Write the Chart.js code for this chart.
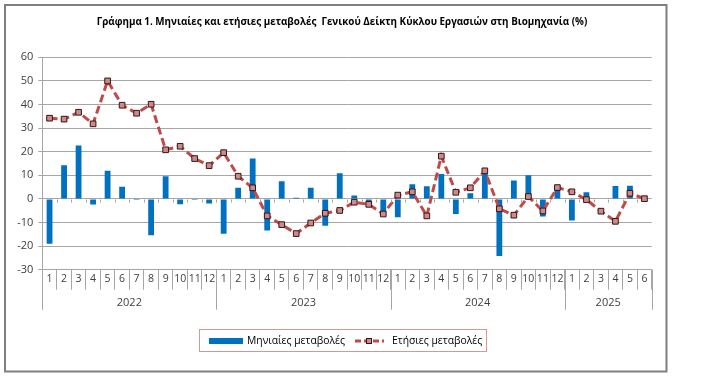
<!DOCTYPE html>
<html>
<head>
<meta charset="utf-8">
<script src="https://cdn.jsdelivr.net/npm/chart.js@4"></script>
<style>
html,body{margin:0;padding:0;background:#fff;}
#wrap{width:706px;height:383px;position:relative;}
</style>
</head>
<body>
<div id="wrap"><canvas id="c" width="706" height="383"></canvas></div>
<script>
const years = ['2022', '2023', '2024', '2025'];
const monthsPerYear = [12, 12, 12, 6];
const monthly = [-19.0, 14.3, 22.6, -2.4, 11.9, 5.1, -0.5, -15.4, 9.6, -2.3, -0.5, -2.0,
  -14.8, 4.7, 17.1, -13.4, 7.5, 0.5, 4.7, -11.4, 10.9, 1.4, -1.5, -5.8,
  -7.8, 6.2, 5.4, 10.5, -6.4, 2.4, 12.3, -24.2, 7.8, 10.0, -7.5, 4.2,
  -9.2, 2.8, 0.0, 5.5, 5.6, 0.0];
const annual = [34.2, 33.8, 36.7, 31.8, 50.0, 39.7, 36.3, 40.1, 20.8, 22.3, 17.1, 14.1,
  19.6, 9.6, 4.7, -7.2, -10.9, -14.7, -10.2, -6.1, -4.9, -1.4, -2.3, -6.4,
  1.6, 3.0, -7.2, 18.1, 2.8, 4.7, 11.9, -4.2, -6.9, 1.0, -5.1, 4.8,
  3.0, -0.3, -5.2, -9.5, 2.4, 0.1];
const seriesNames = ['Μηνιαίες μεταβολές', 'Ετήσιες μεταβολές'];
const titleText = 'Γράφημα 1. Μηνιαίες και ετήσιες μεταβολές  Γενικού Δείκτη Κύκλου Εργασιών στη Βιομηχανία (%)';

const labels = [];
monthsPerYear.forEach(n => { for (let m = 1; m <= n; m++) labels.push(String(m)); });

const FONT = "'Open Sans', 'Noto Sans', sans-serif";
const BAR = '#0070C0';
const LINE = '#BE4B48';
const MARK_FILL = '#C98C8A';
const MARK_BORDER = '#3A1212';
const GRID = '#A6A6A6';
const TEXT = '#404040';

function fitFont(ctx, text, target, weight) {
  let fs = 12;
  ctx.font = weight + fs + 'px ' + FONT;
  const w = ctx.measureText(text).width;
  fs = fs * target / w;
  ctx.font = weight + fs.toFixed(2) + 'px ' + FONT;
}

const decor = {
  id: 'decor',
  beforeDraw(chart) {
    const ctx = chart.ctx;
    ctx.save();
    ctx.fillStyle = '#fff';
    ctx.fillRect(0, 0, chart.width, chart.height);
    ctx.strokeStyle = '#7F7F7F';
    ctx.lineWidth = 2;
    ctx.strokeRect(5, 5, 661.5, 366.5);
    ctx.fillStyle = '#000';
    fitFont(ctx, titleText, 491, 'bold ');
    ctx.textAlign = 'center';
    ctx.textBaseline = 'middle';
    ctx.fillText(titleText, 342, 22);
    ctx.restore();
  },
  afterDraw(chart) {
    const ctx = chart.ctx;
    const y = chart.scales.y;
    const area = chart.chartArea;
    const n = labels.length;
    const step = (area.right - area.left) / n;
    ctx.save();
    const y0 = Math.round(y.getPixelForValue(0)) + 0.5;
    ctx.strokeStyle = GRID;
    ctx.lineWidth = 1;
    ctx.beginPath();
    for (let i = 1; i < n; i++) {
      const xx = Math.round(area.left + i * step) + 0.5;
      ctx.moveTo(xx, y0);
      ctx.lineTo(xx, y0 + 3);
    }
    ctx.stroke();
    let idx = 0;
    ctx.beginPath();
    const bounds = [0];
    monthsPerYear.forEach(m => { idx += m; bounds.push(idx); });
    bounds.forEach(b => {
      const xx = Math.round(area.left + b * step) + 0.5;
      ctx.moveTo(xx, area.bottom);
      ctx.lineTo(xx, area.bottom + 40);
    });
    ctx.stroke();
    ctx.fillStyle = TEXT;
    ctx.font = '11px ' + FONT;
    ctx.textAlign = 'center';
    ctx.textBaseline = 'middle';
    for (let i = 0; i < years.length; i++) {
      const cx = area.left + (bounds[i] + bounds[i + 1]) / 2 * step;
      ctx.fillText(years[i], cx, area.bottom + 33);
    }
    // legend
    ctx.strokeStyle = '#D99694';
    ctx.lineWidth = 1;
    ctx.strokeRect(199.5, 329.5, 287, 22);
    ctx.fillStyle = BAR;
    ctx.fillRect(209, 338, 34, 6);
    ctx.fillStyle = '#000';
    fitFont(ctx, seriesNames[0], 98, '');
    ctx.textAlign = 'left';
    ctx.fillText(seriesNames[0], 247, 341);
    ctx.strokeStyle = LINE;
    ctx.lineWidth = 3;
    ctx.setLineDash([6, 3]);
    ctx.beginPath();
    ctx.moveTo(355, 341); ctx.lineTo(384, 341);
    ctx.stroke();
    ctx.setLineDash([]);
    ctx.fillStyle = MARK_FILL;
    ctx.strokeStyle = MARK_BORDER;
    ctx.lineWidth = 1;
    ctx.fillRect(366, 338, 6, 6);
    ctx.strokeRect(366.5, 338.5, 5, 5);
    ctx.fillStyle = '#000';
    ctx.fillText(seriesNames[1], 392, 341);
    ctx.restore();
  }
};

new Chart(document.getElementById('c'), {
  type: 'bar',
  data: {
    labels: labels,
    datasets: [
      {
        type: 'line',
        label: seriesNames[1],
        data: annual,
        borderColor: LINE,
        borderWidth: 3,
        borderDash: [8, 4],
        pointStyle: 'rect',
        pointRadius: 4,
        pointBackgroundColor: MARK_FILL,
        pointBorderColor: MARK_BORDER,
        pointBorderWidth: 1,
        tension: 0,
        order: 0
      },
      {
        type: 'bar',
        label: seriesNames[0],
        data: monthly,
        backgroundColor: BAR,
        categoryPercentage: 1,
        barPercentage: 0.4,
        order: 1
      }
    ]
  },
  options: {
    responsive: false,
    animation: false,
    devicePixelRatio: 1,
    layout: { padding: { left: 0, right: 54.3, top: 57.3, bottom: 73.3 } },
    plugins: {
      legend: { display: false },
      title: { display: false },
      tooltip: { enabled: false }
    },
    scales: {
      x: {
        offset: true,
        grid: { display: true, drawOnChartArea: false, drawTicks: true, tickLength: 20, offset: true, color: GRID, lineWidth: 1 },
        border: { display: true, color: GRID },
        ticks: { color: TEXT, font: { family: FONT, size: 10.5 }, padding: -17, maxRotation: 0, autoSkip: false },
        afterFit(s) { s.height = 40; }
      },
      y: {
        min: -30, max: 60,
        ticks: { stepSize: 10, color: TEXT, font: { family: FONT, size: 11 }, padding: 5 },
        grid: { color: GRID, lineWidth: 1, tickLength: 4, drawTicks: true },
        border: { display: true, color: GRID },
        afterFit(s) { s.width = 42.3; }
      }
    }
  },
  plugins: [decor]
});
</script>
</body>
</html>
